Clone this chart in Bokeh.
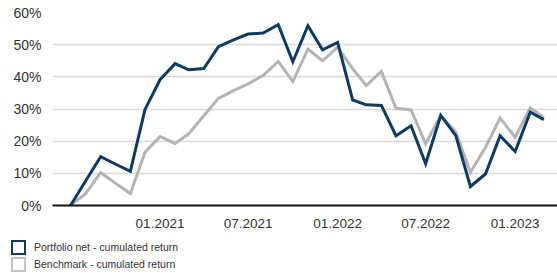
import pandas as pd
from bokeh.plotting import figure
from bokeh.layouts import column
from bokeh.models import (ColumnDataSource, FixedTicker, Range1d,
                          CustomJSTickFormatter, Div)
from bokeh.embed import file_html
from bokeh.resources import INLINE

# ---- data ----
dates = pd.date_range("2020-07-01", "2023-03-01", freq="MS")
portfolio = [0.0, 7.6, 15.2, 12.9, 10.6, 29.8, 39.1, 44.1, 42.2, 42.6, 49.4, 51.5,
             53.3, 53.6, 56.2, 44.7, 55.9, 48.4, 50.7, 32.8, 31.3, 31.1, 21.7, 24.8,
             13.0, 28.0, 21.7, 5.9, 9.8, 21.7, 16.8, 29.0, 26.7]
benchmark = [0.0, 3.7, 10.2, 7.0, 3.7, 16.5, 21.4, 19.3, 22.3, 27.9, 33.3, 35.7,
             37.8, 40.4, 44.8, 38.5, 48.6, 45.0, 49.2, 42.5, 37.3, 41.7, 30.2, 29.7,
             19.2, 28.0, 22.8, 10.3, 18.1, 27.2, 21.2, 30.3, 27.4]
y_ticks = [0, 10, 20, 30, 40, 50, 60]
x_tick_dates = ["2021-01-01", "2021-07-01", "2022-01-01", "2022-07-01", "2023-01-01"]
labels = ["Portfolio net - cumulated return", "Benchmark - cumulated return"]

NAVY = "#0e3a64"
GREY = "#b4b4b4"
FONT = "Liberation Sans"

src = ColumnDataSource(dict(x=dates, p=portfolio, b=benchmark))

x0 = dates[0] - pd.Timedelta(days=37)
x1 = dates[-1] + pd.Timedelta(days=28)

p = figure(width=557, height=236, x_axis_type="datetime",
           x_range=Range1d(x0, x1), y_range=Range1d(0, 60),
           output_backend="svg", toolbar_location=None,
           min_border_left=52, min_border_right=0, min_border_top=12,
           min_border_bottom=31)
p.outline_line_color = None

p.line("x", "b", source=src, line_color=GREY, line_width=3, line_join="miter")
p.line("x", "p", source=src, line_color=NAVY, line_width=3, line_join="miter")

# axes
p.yaxis.ticker = FixedTicker(ticks=y_ticks)
p.yaxis.formatter = CustomJSTickFormatter(code="return tick + '%';")
p.yaxis.axis_line_color = None
p.yaxis.major_tick_line_color = None
p.yaxis.minor_tick_line_color = None
p.yaxis.major_label_text_font = FONT
p.yaxis.major_label_text_font_size = "14px"
p.yaxis.major_label_text_color = "#333333"
p.yaxis.major_label_standoff = 5

xt = [pd.Timestamp(d).timestamp() * 1000 for d in x_tick_dates]
p.xaxis.ticker = FixedTicker(ticks=xt)
p.xaxis.formatter = CustomJSTickFormatter(code="""
const d = new Date(tick);
const m = String(d.getUTCMonth() + 1).padStart(2, '0');
return m + '.' + d.getUTCFullYear();
""")
p.xaxis.axis_line_color = "#111111"
p.xaxis.axis_line_width = 2
p.xaxis.major_tick_line_color = None
p.xaxis.minor_tick_line_color = None
p.xaxis.major_label_text_font = FONT
p.xaxis.major_label_text_font_size = "13.5px"
p.xaxis.major_label_text_color = "#333333"
p.xaxis.major_label_standoff = 7

p.xgrid.grid_line_color = None
p.ygrid.grid_line_color = "#d9d9d9"
p.ygrid.grid_line_width = 1.5

# legend (HTML) below the chart
def item(color, text, top):
    return (f'<div style="position:absolute;left:11px;top:{top}px;width:15px;height:15px;'
            f'box-sizing:border-box;border:2px solid {color};background:white;"></div>'
            f'<div style="position:absolute;left:34px;top:{top + 1}px;line-height:13px;'
            f'font-family:\'{FONT}\';font-size:10.5px;color:#333333;white-space:nowrap;">{text}</div>')

html = ('<div style="position:relative;width:557px;height:37px;">'
        + item(NAVY, labels[0], 4) + item("#c4c4c4", labels[1], 21) + '</div>')
leg = Div(text=html, width=557, height=37, margin=0)

layout = column(p, leg, spacing=0)
open("out.html", "w").write(file_html(layout, INLINE))
